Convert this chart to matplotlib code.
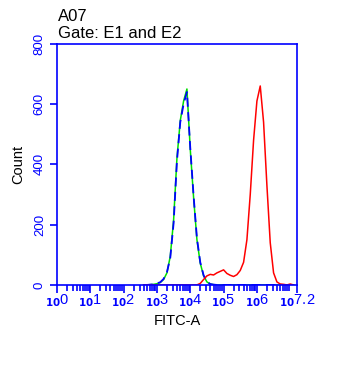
import numpy as np
import matplotlib.pyplot as plt
from matplotlib.ticker import FixedLocator, FixedFormatter, LogLocator, NullFormatter

plt.rcParams['font.family'] = ['Liberation Sans', 'DejaVu Sans']

# log10(FITC-A) bin centres
log_bins = [2.6, 2.7, 2.8, 2.9, 3.0, 3.1, 3.2, 3.3, 3.4, 3.5, 3.6, 3.7, 3.8, 3.9,
            4.0, 4.1, 4.2, 4.3, 4.4, 4.5, 4.6, 4.7, 4.8, 4.9, 5.0, 5.1, 5.2, 5.3,
            5.4, 5.5, 5.6, 5.7, 5.8, 5.9, 6.0, 6.1, 6.2, 6.3, 6.4, 6.5, 6.6, 6.7,
            6.8, 6.9, 7.0, 7.1]
green_counts = [0, 0, 1, 2, 4, 8, 18, 40, 95, 215, 420, 545, 610, 650,
                450, 290, 150, 72, 30, 10, 3, 1, 0, 0, 0, 0, 0, 0,
                0, 0, 0, 0, 0, 0, 0, 0, 0, 0, 0, 0, 0, 0,
                0, 0, 0, 0]
blue_counts = [0, 0, 1, 2, 5, 9, 20, 42, 90, 205, 410, 540, 600, 640,
               455, 295, 155, 75, 32, 11, 3, 1, 0, 0, 0, 0, 0, 0,
               0, 0, 0, 0, 0, 0, 0, 0, 0, 0, 0, 0, 0, 0,
               0, 0, 0, 0]
red_counts = [0, 0, 0, 0, 0, 0, 0, 0, 0, 0, 0, 0, 0, 0,
              0, 0, 0, 5, 18, 30, 35, 33, 40, 45, 50, 38, 32, 28,
              34, 48, 75, 150, 300, 480, 610, 660, 540, 330, 140, 40, 10, 3,
              2, 0, 3, 0]

x_exponents = [0, 1, 2, 3, 4, 5, 6, 7.2]
y_ticks = [0, 200, 400, 600, 800]

blue = '#0000ff'
fig = plt.figure(figsize=(3.56, 3.84), dpi=100)
ax = fig.add_axes([0.160, 0.258, 0.674, 0.628])

xs = 10 ** np.array(log_bins)
ax.plot(xs, green_counts, color='#00dd00', lw=1.1)
ax.plot(xs, blue_counts, color=blue, lw=1.3, dashes=(5, 3))
ax.plot(xs, red_counts, color='#ff0000', lw=1.1)

ax.set_xscale('log')
ax.set_xlim(1, 10 ** 7.2)
ax.set_ylim(0, 800)

ax.xaxis.set_major_locator(FixedLocator([10 ** e for e in x_exponents]))
ax.xaxis.set_major_formatter(FixedFormatter(
    [r'$_{\mathbf{10}}$' + (str(e) if isinstance(e, int) else '7.2') for e in x_exponents]))
ax.xaxis.set_minor_locator(LogLocator(base=10, subs=np.arange(2, 10), numticks=20))
ax.xaxis.set_minor_formatter(NullFormatter())

ax.set_yticks(y_ticks)
ax.set_yticklabels([str(v) for v in y_ticks], rotation=90, va='center')

for sp in ax.spines.values():
    sp.set_color(blue)
    sp.set_linewidth(1.2)
ax.tick_params(axis='both', which='both', colors=blue, direction='out', width=1.2)
ax.tick_params(axis='x', which='major', length=6, labelsize=10.5, pad=-1)
ax.tick_params(axis='x', which='minor', length=4)
ax.tick_params(axis='y', length=5, labelsize=9.5, pad=3)

ax.set_xlabel('FITC-A', fontsize=10.5, labelpad=4)
ax.set_ylabel('Count', fontsize=10.5, labelpad=6)

fig.text(0.163, 0.957, 'A07', fontsize=12, va='center')
fig.text(0.163, 0.913, 'Gate: E1 and E2', fontsize=12, va='center')

fig.savefig('out.png', dpi=100)
